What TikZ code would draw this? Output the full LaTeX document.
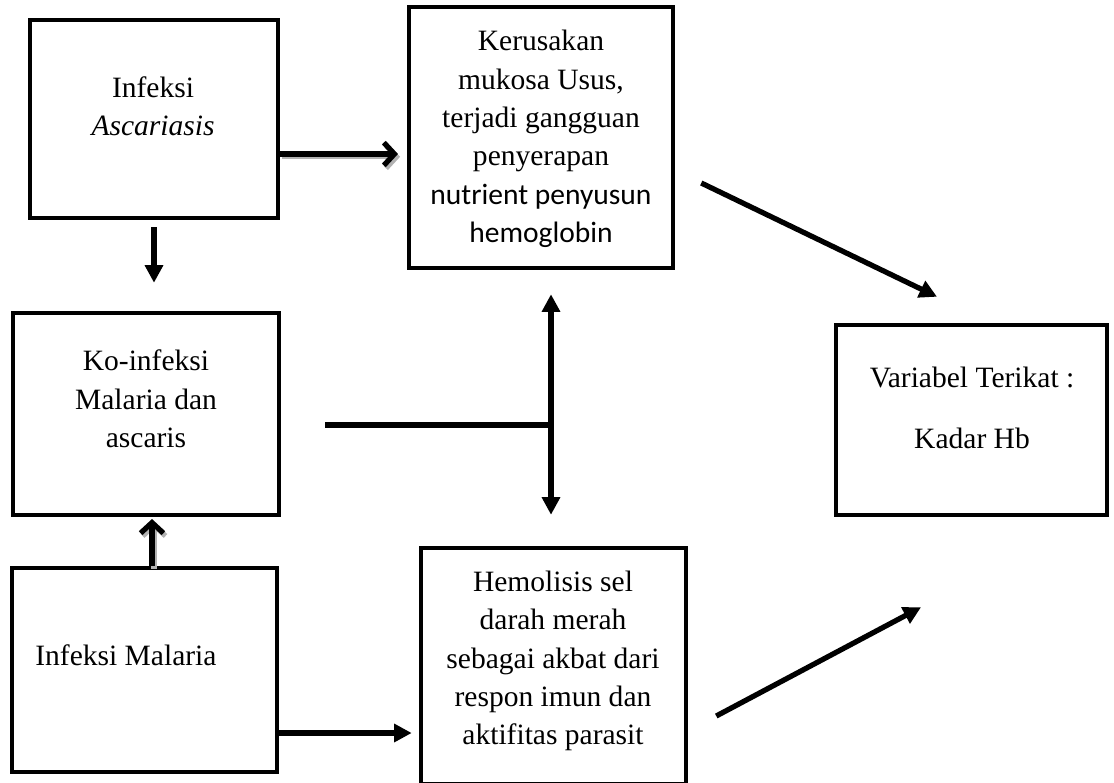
\documentclass[tikz,border=0pt]{standalone}
\usepackage{fontspec}
\setmainfont{Liberation Serif}
\newfontfamily\calibri{Carlito}
\usetikzlibrary{arrows.meta,positioning,calc}

\begin{document}
\begin{tikzpicture}[
    x=0.02cm, y=-0.02cm,
    box/.style={rectangle, draw, line width=2.6pt, inner sep=0pt},
    lbl/.style={align=center, inner sep=0pt,
                font={\fontsize{16.8pt}{21.8pt}\selectfont}},
    arr/.style={-{Triangle[length=10pt,width=10pt]}, line width=3pt},
    arrc/.style={-{Straight Barb[length=6pt,width=13pt]}, line width=3pt},
    shad/.style={arrc, gray!60, transform canvas={xshift=1.2pt, yshift=-1.6pt}},
    dbl/.style={{Triangle[length=10pt,width=10pt]}-{Triangle[length=10pt,width=10pt]},
                line width=3pt},
    ln/.style={line width=3pt},
  ]
  \useasboundingbox (0,0) rectangle (1114,782);

  % === Infeksi Ascariasis ===
  \node[box, minimum width=4.96cm, minimum height=3.96cm] (asc) at (154,119) {};
  \node[lbl] (asc-t) at (153,106) {Infeksi\\\textit{Ascariasis}};

  % === Kerusakan mukosa ===
  \node[box, minimum width=5.28cm, minimum height=5.22cm] (kerus) at (541,137.5) {};
  \node[lbl] (kerus-t) at (541,139)
    {Kerusakan\\mukosa Usus,\\terjadi gangguan\\penyerapan\\
     {\calibri nutrient penyusun}\\{\calibri hemoglobin}};

  % === Ko-infeksi ===
  \node[box, minimum width=5.32cm, minimum height=4.04cm] (ko) at (146,414) {};
  \node[lbl] (ko-t) at (146,399) {Ko-infeksi\\Malaria dan\\ascaris};

  % === Variabel terikat ===
  \node[box, minimum width=5.42cm, minimum height=3.8cm] (hb) at (971.5,420) {};
  \node[lbl] (hb-t) at (972,408) {Variabel Terikat :\\[13pt]Kadar Hb};

  % === Infeksi Malaria ===
  \node[box, minimum width=5.3cm, minimum height=4.08cm] (mal) at (144.5,670) {};
  \node[lbl, anchor=west] (mal-t) at (35,655) {Infeksi Malaria};

  % === Hemolisis ===
  \node[box, minimum width=5.3cm, minimum height=4.72cm] (hemo) at (553.5,666) {};
  \node[lbl] (hemo-t) at (553,661)
    {Hemolisis sel\\darah merah\\sebagai akbat dari\\respon imun dan\\aktifitas parasit};

  % Ascariasis -> Kerusakan
  \coordinate (ab) at ([yshift=-0.7cm]asc.east);
  \draw[shad, shorten >=5pt] (ab) -- (ab -| kerus.west);
  \draw[arrc, shorten >=5pt] (ab) -- (ab -| kerus.west);

  % Ascariasis -> Ko-infeksi
  \draw[arr, shorten <=0.14cm, shorten >=0.56cm] (asc.south) -- (asc.south |- ko.north);

  % Malaria -> Ko-infeksi
  \coordinate (mk) at ([xshift=0.15cm]mal.north);
  \draw[shad, shorten >=1pt] (mk) -- (mk |- ko.south);
  \draw[arrc, shorten >=1pt] (mk) -- (mk |- ko.south);

  % Ko-infeksi -> junction
  \coordinate (jn) at (551,425);
  \draw[ln, shorten <=0.88cm] (jn -| ko.east) -- (jn);
  \draw[dbl, shorten <=0.48cm, shorten >=0.62cm] (jn |- kerus.south) -- (jn |- hemo.north);

  % Malaria -> Hemolisis
  \coordinate (mh) at ([yshift=-1.26cm]mal.east);
  \draw[arr, shorten >=4pt] (mh) -- (mh -| hemo.west);

  % to Kadar Hb
  \draw[arr] ([shift={(0.52cm,-0.91cm)}]kerus.east) -- ([shift={(-0.69cm,0.52cm)}]hb.north);
  \draw[arr] ([shift={(0.56cm,-1.0cm)}]hemo.east) -- ([shift={(-1.01cm,-1.8cm)}]hb.south);

\end{tikzpicture}
\end{document}
